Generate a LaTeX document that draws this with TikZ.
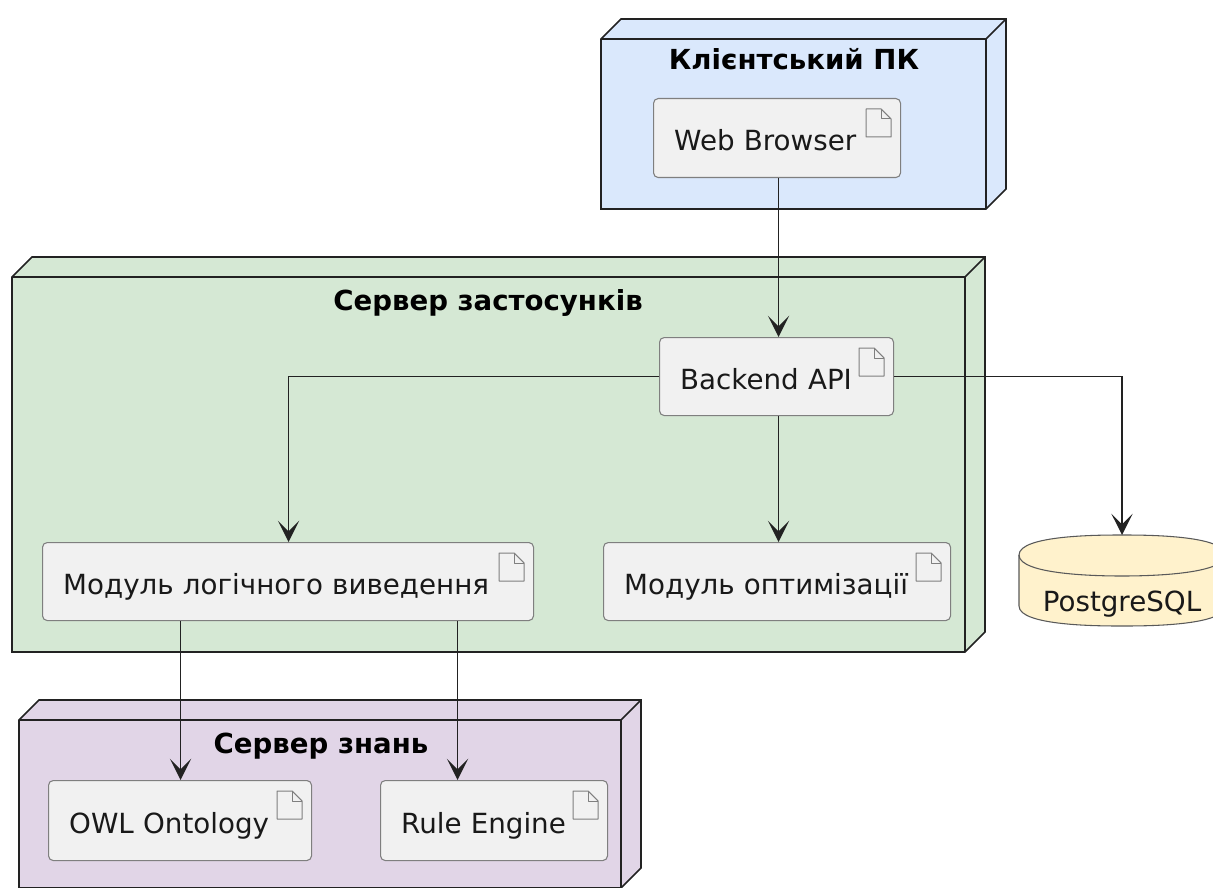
\documentclass[tikz,border=0pt]{standalone}
\usepackage{fontspec}
\setmainfont{DejaVu Sans}
\usetikzlibrary{arrows.meta}
\definecolor{clientc}{HTML}{DAE8FC}
\definecolor{appc}{HTML}{D5E8D4}
\definecolor{knowc}{HTML}{E1D5E7}
\definecolor{dbc}{HTML}{FFF2CC}
\definecolor{boxc}{HTML}{F1F1F1}
\definecolor{linec}{HTML}{222222}
\definecolor{edgec}{HTML}{7F7F7F}
\newcommand{\clusterbox}[5]{%
  \draw[clusterline,fill=#5] (#1,#2) -- (#1+20,#2-20) -- (#3+20,#2-20) -- (#3+20,#4-20) -- (#3,#4) -- (#1,#4) -- cycle;
  \draw[clusterline] (#1,#2) -- (#3,#2) -- (#3,#4);
  \draw[clusterline] (#3,#2) -- (#3+20,#2-20);
}
\newcommand{\docicon}[1]{%
  \draw[iconline] ([shift={(-35,11)}]#1.north east) -- ([shift={(-20,11)}]#1.north east) -- ([shift={(-10,21)}]#1.north east) -- ([shift={(-10,39)}]#1.north east) -- ([shift={(-35,39)}]#1.north east) -- cycle;
  \draw[iconline] ([shift={(-20,11)}]#1.north east) -- ([shift={(-20,21)}]#1.north east) -- ([shift={(-10,21)}]#1.north east);
}
\tikzset{
  x=0.75pt,y=-0.75pt,
  clusterline/.style={draw=linec,line width=1.3pt,line join=miter},
  iconline/.style={draw=edgec,line width=0.75pt,line join=round},
  titletext/.style={font=\fontsize{20.7pt}{23pt}\selectfont\bfseries,text=black,anchor=base,inner sep=0pt},
  artifact/.style n args={2}{draw=edgec,line width=0.8pt,fill=boxc,rounded corners=3.5pt,anchor=north west,
    minimum width={#1*0.75pt},minimum height={#2*0.75pt},text width={#1*0.75pt-31pt},inner xsep=15.5pt,inner ysep=0pt,
    align=left,text height=19pt,text depth=0pt,font=\fontsize{20.8pt}{24pt}\selectfont,text=black!90},
  conn/.style={draw=linec,line width=1.4pt,-{Stealth[length=16pt,width=16pt,inset=8pt]}},
}
\begin{document}
\begin{tikzpicture}
\useasboundingbox (0,0) rectangle (1213,888);
\clusterbox{601}{39}{986}{209}{clientc}
\clusterbox{12}{277}{965}{652}{appc}
\clusterbox{19}{720}{621}{888}{knowc}
\node[titletext] (tclient) at (794,70) {Клієнтський ПК};
\node[titletext] (tapp) at (488,310) {Сервер застосунків};
\node[titletext] (tknow) at (321,753) {Сервер знань};
% database
\draw[draw=edgec!70!black,line width=0.8pt,fill=dbc] (1019,555) .. controls (1019,535) and (1100,535) .. (1122,535) .. controls (1144,535) and (1225,535) .. (1225,555) -- (1225,606) .. controls (1225,626) and (1144,626) .. (1122,626) .. controls (1100,626) and (1019,626) .. (1019,606) -- cycle;
\draw[draw=edgec!70!black,line width=0.8pt] (1019,555) .. controls (1019,575) and (1100,576) .. (1122,576) .. controls (1144,576) and (1225,575) .. (1225,555);
\coordinate (dbtop) at (1122,535);
\node[font=\fontsize{20.8pt}{24pt}\selectfont,text=black!90,anchor=base,inner sep=0pt] (db) at (1122,611) {PostgreSQL};
% artifacts
\node[artifact={247}{79}] (web) at (653,98) {Web Browser};
\node[artifact={234}{78}] (api) at (659,337) {Backend API};
\node[artifact={491}{78}] (logic) at (42,542) {Модуль логічного виведення};
\node[artifact={347}{78}] (opt) at (603,542) {Модуль оптимізації};
\node[artifact={263}{80}] (owl) at (48,780) {OWL Ontology};
\node[artifact={227}{80}] (rule) at (380,780) {Rule Engine};
\docicon{web}\docicon{api}\docicon{logic}\docicon{opt}\docicon{owl}\docicon{rule}
% connectors
\draw[conn] ([xshift=1.5*0.75pt]web.south) -- ([xshift=2*0.75pt]api.north);
\draw[conn] (api.west) -| ([xshift=0.5*0.75pt]logic.north);
\draw[conn] ([xshift=2*0.75pt]api.south) -- ([xshift=1.5*0.75pt]opt.north);
\draw[conn] (api.east) -| (dbtop);
\draw[conn] ([xshift=-107.5*0.75pt]logic.south) -- ([xshift=0.5*0.75pt]owl.north);
\draw[conn] ([xshift=169.5*0.75pt]logic.south) -- ([xshift=-36.5*0.75pt]rule.north);
\end{tikzpicture}
\end{document}
